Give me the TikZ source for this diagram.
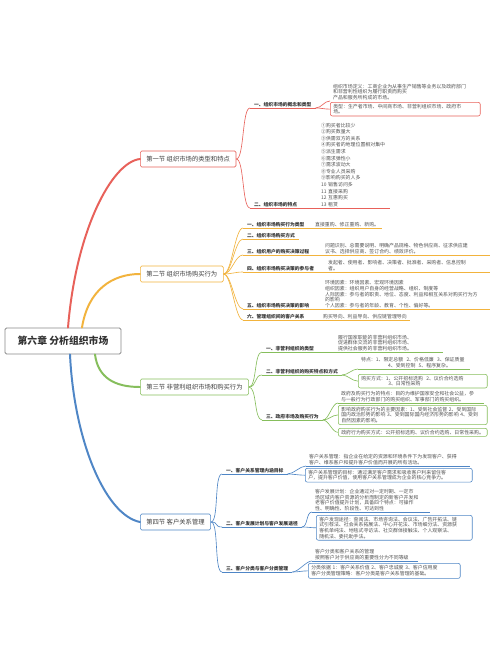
\documentclass[tikz,border=0pt]{standalone}
\usepackage{fontspec}
\setmainfont{Noto Sans CJK SC}
\definecolor{MapRed}{HTML}{E8615A}
\definecolor{MapGold}{HTML}{F2B33D}
\definecolor{MapGreen}{HTML}{86BE5C}
\definecolor{MapBlue}{HTML}{4F86C6}
\definecolor{MapGrey}{HTML}{8A8A8A}
\usepackage{tikz}

\begin{document}
\begin{tikzpicture}[x=0.05cm, y=-0.05cm,
    root/.style={draw=MapGrey, line width=1.3pt, rounded corners=2pt, fill=white, font=\fontsize{14}{16}\selectfont\bfseries, text=black!80, minimum width=5.8cm, minimum height=1.3cm},
    sec/.style={draw=#1, line width=0.9pt, rounded corners=2pt, fill=white, font=\fontsize{9}{10}\selectfont, text=black!75, minimum height=0.8cm, inner xsep=0.3cm, anchor=west},
    ln/.style={draw=#1, line width=0.9pt},
    trunk/.style={draw=#1, line width=2.8pt, line cap=round},
    ul/.style={append after command={(\tikzlastnode.south west) edge[ln=#1] (\tikzlastnode.south east)}},
    sub/.style={font=\fontsize{6.8}{8}\selectfont\bfseries, text=black!80, inner xsep=0.2cm, inner ysep=1.5pt, anchor=south west, ul=#1},
    leaf/.style={font=\fontsize{7}{8}\selectfont, text=black!68, align=left, inner xsep=0.15cm, inner ysep=1.5pt},
    ulleaf/.style={leaf, anchor=south west, ul=#1},
    boxleaf/.style={leaf, anchor=north west, draw=#1, line width=0.8pt, rounded corners=3pt, inner ysep=2.5pt}
]
    \path[use as bounding box, fill=white] (0,0) rectangle (500,667);

    % root and sections
    \node[root] (root) at (63,341) {第六章 分析组织市场};
    \node[sec=MapRed] (s1) at (140,159) {第一节 组织市场的类型和特点};
    \node[sec=MapGold] (s2) at (140,274) {第二节 组织市场购买行为};
    \node[sec=MapGreen] (s3) at (140,387) {第三节 非营利组织市场和购买行为};
    \node[sec=MapBlue] (s4) at (140,522) {第四节 客户关系管理};

    \draw[trunk=MapRed] ([xshift=0.25cm]root.north) .. controls (76,230) and (112,162) .. (s1.west);
    \draw[trunk=MapGold] ([xshift=0.95cm]root.north) .. controls (88,290) and (112,274) .. (s2.west);
    \draw[trunk=MapGreen] ([xshift=1.6cm]root.south) .. controls (98,378) and (115,387) .. (s3.west);
    \draw[trunk=MapBlue] ([xshift=0.35cm]root.south) .. controls (74,440) and (105,515) .. (s4.west);

    % section 1
    \node[sub=MapRed] (s1a) at (250,108) {一、组织市场的概念和类型};
    \node[sub=MapRed] (s1b) at (250,208) {二、组织市场的特点};
    \node[leaf, anchor=south west, text width=7.2cm] (d11) at (330,101) {组织市场定义：工商企业为从事生产销售等业务以及政府部门\\和非营利性组织为履行职责而购买\\产品和服务所构成的市场。};
    \node[boxleaf=MapRed, text width=7.2cm] (t11) at (330,102) {类型：生产者市场、中间商市场、非营利组织市场、政府市\\场。};
    \node[ulleaf=MapRed, text width=3.3cm, font=\fontsize{7}{9.4}\selectfont] (l12) at (318,208) {①购买者比较少\\②购买数量大\\③供需双方的关系\\④购买者的地理位置相对集中\\⑤派生需求\\⑥需求弹性小\\⑦需求波动大\\⑧专业人员采购\\⑨影响购买的人多\\10 销售访问多\\11 直接采购\\12 互惠购买\\13 租赁};
    \draw[ln=MapRed] (s1.east) .. controls +(8,0) and +(-8,0) .. (s1a.south west);
    \draw[ln=MapRed] (s1.east) .. controls +(8,0) and +(-8,0) .. (s1b.south west);
    \draw[ln=MapRed] (s1a.south east) .. controls +(6,0) and +(-6,0) .. (d11.south west);
    \draw[ln=MapRed] (s1a.south east) .. controls +(6,0) and +(-6,0) .. (t11.west);
    \draw[ln=MapRed] (s1b.south east) -- (l12.south west);

    % section 2
    \node[sub=MapGold] (s2a) at (243,228) {一、组织市场购买行为类型};
    \node[sub=MapGold] (s2b) at (243,239) {二、组织市场购买方式};
    \node[sub=MapGold] (s2c) at (243,255) {三、组织用户的购买决策过程};
    \node[sub=MapGold] (s2d) at (243,272) {四、组织市场购买决策的参与者};
    \node[sub=MapGold] (s2e) at (243,309) {五、组织市场购买决策的影响};
    \node[sub=MapGold] (s2f) at (243,320) {六、管理组织间的客户关系};
    \node[ulleaf=MapGold] (l21) at (312,228) {直接重购、修正重购、新购。};
    \node[ulleaf=MapGold, text width=8.1cm] (l23) at (322,255) {问题识别、总需要说明、明确产品规格、物色供应商、征求供应建\\议书、选择供应商、签订合约、绩效评价。};
    \node[ulleaf=MapGold, text width=7.95cm] (l24) at (325,272) {发起者、使用者、影响者、决策者、批准者、采购者、信息控制\\者。};
    \node[ulleaf=MapGold, text width=8.1cm] (l25) at (322,309) {环境因素：环境因素、宏观环境因素\\组织因素：组织用户自身的经营战略、组织、制度等\\人际因素：参与者的职责、地位、态度、利益和相互关系对购买行为方\\的影响\\个人因素：参与者的年龄、教育、个性、偏好等。};
    \node[ulleaf=MapGold] (l26) at (320,320) {购买导向、利益导向、供应链管理导向};
    \draw[ln=MapGold] (s2.east) .. controls +(8,0) and +(-8,0) .. (s2a.south west);
    \draw[ln=MapGold] (s2.east) .. controls +(8,0) and +(-8,0) .. (s2b.south west);
    \draw[ln=MapGold] (s2.east) .. controls +(8,0) and +(-8,0) .. (s2c.south west);
    \draw[ln=MapGold] (s2.east) .. controls +(8,0) and +(-8,0) .. (s2d.south west);
    \draw[ln=MapGold] (s2.east) .. controls +(8,0) and +(-8,0) .. (s2e.south west);
    \draw[ln=MapGold] (s2.east) .. controls +(8,0) and +(-8,0) .. (s2f.south west);
    \draw[ln=MapGold] (s2a.south east) -- (l21.south west);
    \draw[ln=MapGold] (s2c.south east) -- (l23.south west);
    \draw[ln=MapGold] (s2d.south east) -- (l24.south west);
    \draw[ln=MapGold] (s2e.south east) -- (l25.south west);
    \draw[ln=MapGold] (s2f.south east) -- (l26.south west);

    % section 3
    \node[sub=MapGreen] (s3a) at (262,352) {一、非营利组织的类型};
    \node[sub=MapGreen] (s3b) at (262,375) {二、非营利组织的购买特点和方式};
    \node[sub=MapGreen] (s3c) at (262,420) {三、政府市场及购买行为};
    \node[ulleaf=MapGreen, text width=5.1cm] (l31) at (335,352) {履行国家职能的非营利组织市场、\\促进群体交流的非营利组织市场、\\提供社会服务的非营利组织市场。};
    \node[ulleaf=MapGreen, text width=5.3cm] (l32a) at (358,369) {特点：1、限定总额\ \ 2、价格低廉\ \ 3、保证质量\\\hspace*{1.35cm}4、受到控制\ \ 5、程序复杂。};
    \node[boxleaf=MapGreen, text width=6.15cm] (l32b) at (358,374) {购买方式：1、公开招标选购\ \ 2、议价合约选购\\\hspace*{1.35cm}3、日常性采购};
    \node[ulleaf=MapGreen, text width=7cm] (l33a) at (338,403) {政府及购买行为的特点：目的为维护国家安全和社会公益，参\\与一般行为行政部门的购买组织、军事部门的购买组织。};
    \node[boxleaf=MapGreen, text width=7.15cm] (l33b) at (338,405) {影响政府购买行为的主要因素：1、受到社会监督\ 2、受到国际\\国内政治形势的影响\ 3、受到国际国内经济形势的影响\ 4、受到\\自然因素的影响。};
    \node[boxleaf=MapGreen, text width=7.15cm] (l33c) at (338,428) {政府行为购买方式：公开招标选购、议价合约选购、日常性采购。};
    \draw[ln=MapGreen] (s3.east) .. controls +(8,0) and +(-8,0) .. (s3a.south west);
    \draw[ln=MapGreen] (s3.east) .. controls +(8,0) and +(-8,0) .. (s3b.south west);
    \draw[ln=MapGreen] (s3.east) .. controls +(8,0) and +(-8,0) .. (s3c.south west);
    \draw[ln=MapGreen] (s3a.south east) -- (l31.south west);
    \draw[ln=MapGreen] (s3b.south east) .. controls +(6,0) and +(-6,0) .. (l32a.south west);
    \draw[ln=MapGreen] (s3b.south east) .. controls +(6,0) and +(-6,0) .. (l32b.west);
    \draw[ln=MapGreen] (s3c.south east) .. controls +(6,0) and +(-6,0) .. (l33a.south west);
    \draw[ln=MapGreen] (s3c.south east) .. controls +(6,0) and +(-6,0) .. (l33b.west);
    \draw[ln=MapGreen] (s3c.south east) .. controls +(6,0) and +(-6,0) .. (l33c.west);

    % section 4
    \node[sub=MapBlue] (s4a) at (222,474) {一、客户关系管理内涵目标};
    \node[sub=MapBlue] (s4b) at (222,527) {二、客户发展计划与客户发展途径};
    \node[sub=MapBlue] (s4c) at (222,572) {三、客户分类与客户分类管理};
    \node[ulleaf=MapBlue, text width=7.9cm] (l41a) at (306,466) {客户关系管理：指企业在给定的资源和环境条件下为发现客户、获得\\客户、维系客户和提升客户价值而开展的所有活动。};
    \node[boxleaf=MapBlue, text width=8.05cm] (l41b) at (305,468) {客户关系管理的目标：通过满足客户需求和吸收客户利来留住客\\户，提升客户价值，使用客户关系管理成为企业的核心竞争力。};
    \node[ulleaf=MapBlue, text width=5.6cm] (l42a) at (312,512) {客户发展计划：企业通过对一定时期、一定市\\场区域内客户资源的分析而制定的新客户开发和\\老客户价值提升计划，具备四个特点：可操作\\性、明确性、阶段性、可达到性};
    \node[boxleaf=MapBlue, text width=7.5cm] (l42b) at (316,515) {客户发现途径：查阅法、市场咨询法、会议法、广告开拓法、链\\式引荐法、社会关系拓展法、中心开花法、市场细分法、资源获\\客机单纯法、地毯式寻访法、社交群体接触法、个人观察法、\\随机法、委托助手法。};
    \node[ulleaf=MapBlue, text width=5cm] (l43a) at (312,561) {客户分类和客户关系的管理\\按照客户对于供应商的重要性分为不同等级};
    \node[boxleaf=MapBlue, text width=7.3cm, inner ysep=3.5pt] (l43b) at (308,563) {分类依据 1：客户关系价值\ 2、客户忠诚度\ 3、客户信用度\\客户分类管理策略：客户分类是客户关系管理的基础。};
    \draw[ln=MapBlue] (s4.east) .. controls +(8,0) and +(-8,0) .. (s4a.south west);
    \draw[ln=MapBlue] (s4.east) .. controls +(8,0) and +(-8,0) .. (s4b.south west);
    \draw[ln=MapBlue] (s4.east) .. controls +(8,0) and +(-8,0) .. (s4c.south west);
    \draw[ln=MapBlue] (s4a.south east) .. controls +(6,0) and +(-6,0) .. (l41a.south west);
    \draw[ln=MapBlue] (s4a.south east) .. controls +(6,0) and +(-6,0) .. (l41b.west);
    \draw[ln=MapBlue] (s4b.south east) .. controls +(6,0) and +(-6,0) .. (l42a.south west);
    \draw[ln=MapBlue] (s4b.south east) .. controls +(6,0) and +(-6,0) .. (l42b.west);
    \draw[ln=MapBlue] (s4c.south east) .. controls +(6,0) and +(-6,0) .. (l43a.south west);
    \draw[ln=MapBlue] (s4c.south east) .. controls +(6,0) and +(-6,0) .. (l43b.west);
\end{tikzpicture}
\end{document}
